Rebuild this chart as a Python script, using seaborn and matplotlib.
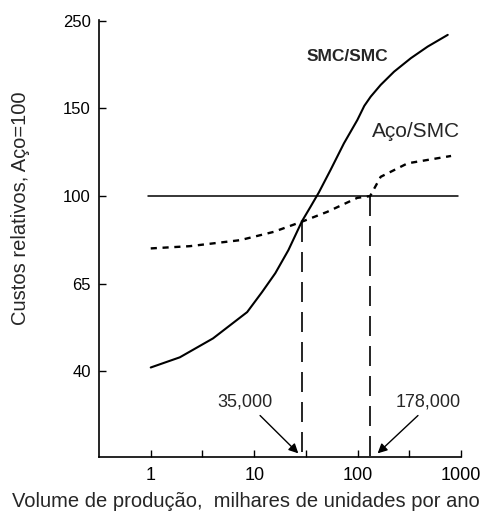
import numpy as np
import pandas as pd
import matplotlib
matplotlib.use("Agg")
import matplotlib.pyplot as plt
import seaborn as sns

# ---- data ----
smc_x = [1, 1.91, 4.0, 8.55, 11.9, 16.0, 21.4, 29.0, 35.0, 42.1, 54.7, 73.7,
         99.3, 116, 133.7, 167, 225, 327, 475, 743]
smc_y = [41.1, 44.0, 49.4, 56.9, 62.6, 69.2, 78.4, 90.0, 95.7, 102, 114.9, 130.1,
         143.4, 153, 163.5, 176.9, 192, 207.4, 220.6, 234]
aco_x = [1, 2.39, 7.31, 15.4, 29.0, 50.8, 99.3, 132, 167, 304, 800]
aco_y = [79.1, 80.0, 82.4, 85.7, 89.8, 93.7, 99.3, 100, 111, 118.7, 122.9]
ref_x = [0.94, 930]
ref_y = [100, 100]
cross_x = [29, 132]
cross_y = [89.8, 100]
x_ticks = [1, 10, 100, 1000]
x_minor = [3.16, 31.6, 316]
y_ticks = [40, 65, 100, 150, 250]
labels = {"smc": "SMC/SMC", "aco": "Aço/SMC", "a1": "35,000", "a2": "178,000"}
xlabel = "Volume de produção,  milhares de unidades por ano"
ylabel = "Custos relativos, Aço=100"

sns.set_style("ticks")
plt.rcParams["font.family"] = ["Liberation Sans", "DejaVu Sans"]

# evenly spaced custom y scale through the labelled ticks
anch_v = np.array([15, 40, 65, 100, 150, 250, 400], float)
anch_p = np.array([-1, 0, 1, 2, 3, 4, 5], float)
fwd = lambda v: np.interp(v, anch_v, anch_p)
inv = lambda p: np.interp(p, anch_p, anch_v)

fig = plt.figure(figsize=(4.9, 5.12), dpi=100)
ax = fig.add_axes([0.202, 0.107, 0.739, 0.854])
ax.set_xscale("log")
ax.set_yscale("function", functions=(fwd, inv))

df_smc = pd.DataFrame({"x": smc_x, "y": smc_y})
df_aco = pd.DataFrame({"x": aco_x, "y": aco_y})
df_ref = pd.DataFrame({"x": ref_x, "y": ref_y})
sns.lineplot(data=df_smc, x="x", y="y", ax=ax, color="black", lw=1.5, sort=False)
sns.lineplot(data=df_aco, x="x", y="y", ax=ax, color="black", lw=1.7,
             linestyle=(0, (2.6, 2.4)), sort=False)
sns.lineplot(data=df_ref, x="x", y="y", ax=ax, color="black", lw=1.1, sort=False)

ax.set_xlim(0.316, 1000)
ax.set_ylim(inv(-0.98), inv(4.01))
ybot = inv(-0.98)
for cx, cy in zip(cross_x, cross_y):
    ax.plot([cx, cx], [cy, ybot], color="black", lw=1.2, linestyle=(0, (12, 6)))

ax.set_xticks(x_ticks)
ax.set_xticklabels([str(v) for v in x_ticks])
ax.set_xticks(x_minor, minor=True)
ax.set_yticks(y_ticks)
ax.set_yticklabels([str(v) for v in y_ticks])
ax.tick_params(axis="both", which="both", direction="in", length=5, width=1,
               colors="black")
ax.tick_params(axis="y", labelsize=12, pad=6)
ax.tick_params(axis="x", labelsize=13, pad=7)
sns.despine(ax=ax)
for s in ("left", "bottom"):
    ax.spines[s].set_color("black")
    ax.spines[s].set_linewidth(1.2)

ax.set_xlabel(xlabel, fontsize=14.5)
ax.set_ylabel(ylabel, fontsize=14.5)
ax.xaxis.set_label_coords(0.405, -0.08)
ax.yaxis.set_label_coords(-0.19, 0.57)

ax.text(80, 209, labels["smc"], fontsize=12.5, fontweight="bold", ha="center", va="center")
ax.text(365, 137, labels["aco"], fontsize=15, ha="center", va="center")
ax.text(8.2, 31.2, labels["a1"], fontsize=13, ha="center", va="center")
ax.text(478, 31.2, labels["a2"], fontsize=13, ha="center", va="center")
ap = dict(arrowstyle="-|>", color="black", lw=1.0, mutation_scale=14, shrinkA=0, shrinkB=0)
ax.annotate("", xy=(26.7, 16.6), xytext=(11.4, 27.4), arrowprops=ap)
ax.annotate("", xy=(156, 16.6), xytext=(383, 27.4), arrowprops=ap)

fig.savefig("out.png", dpi=100)
